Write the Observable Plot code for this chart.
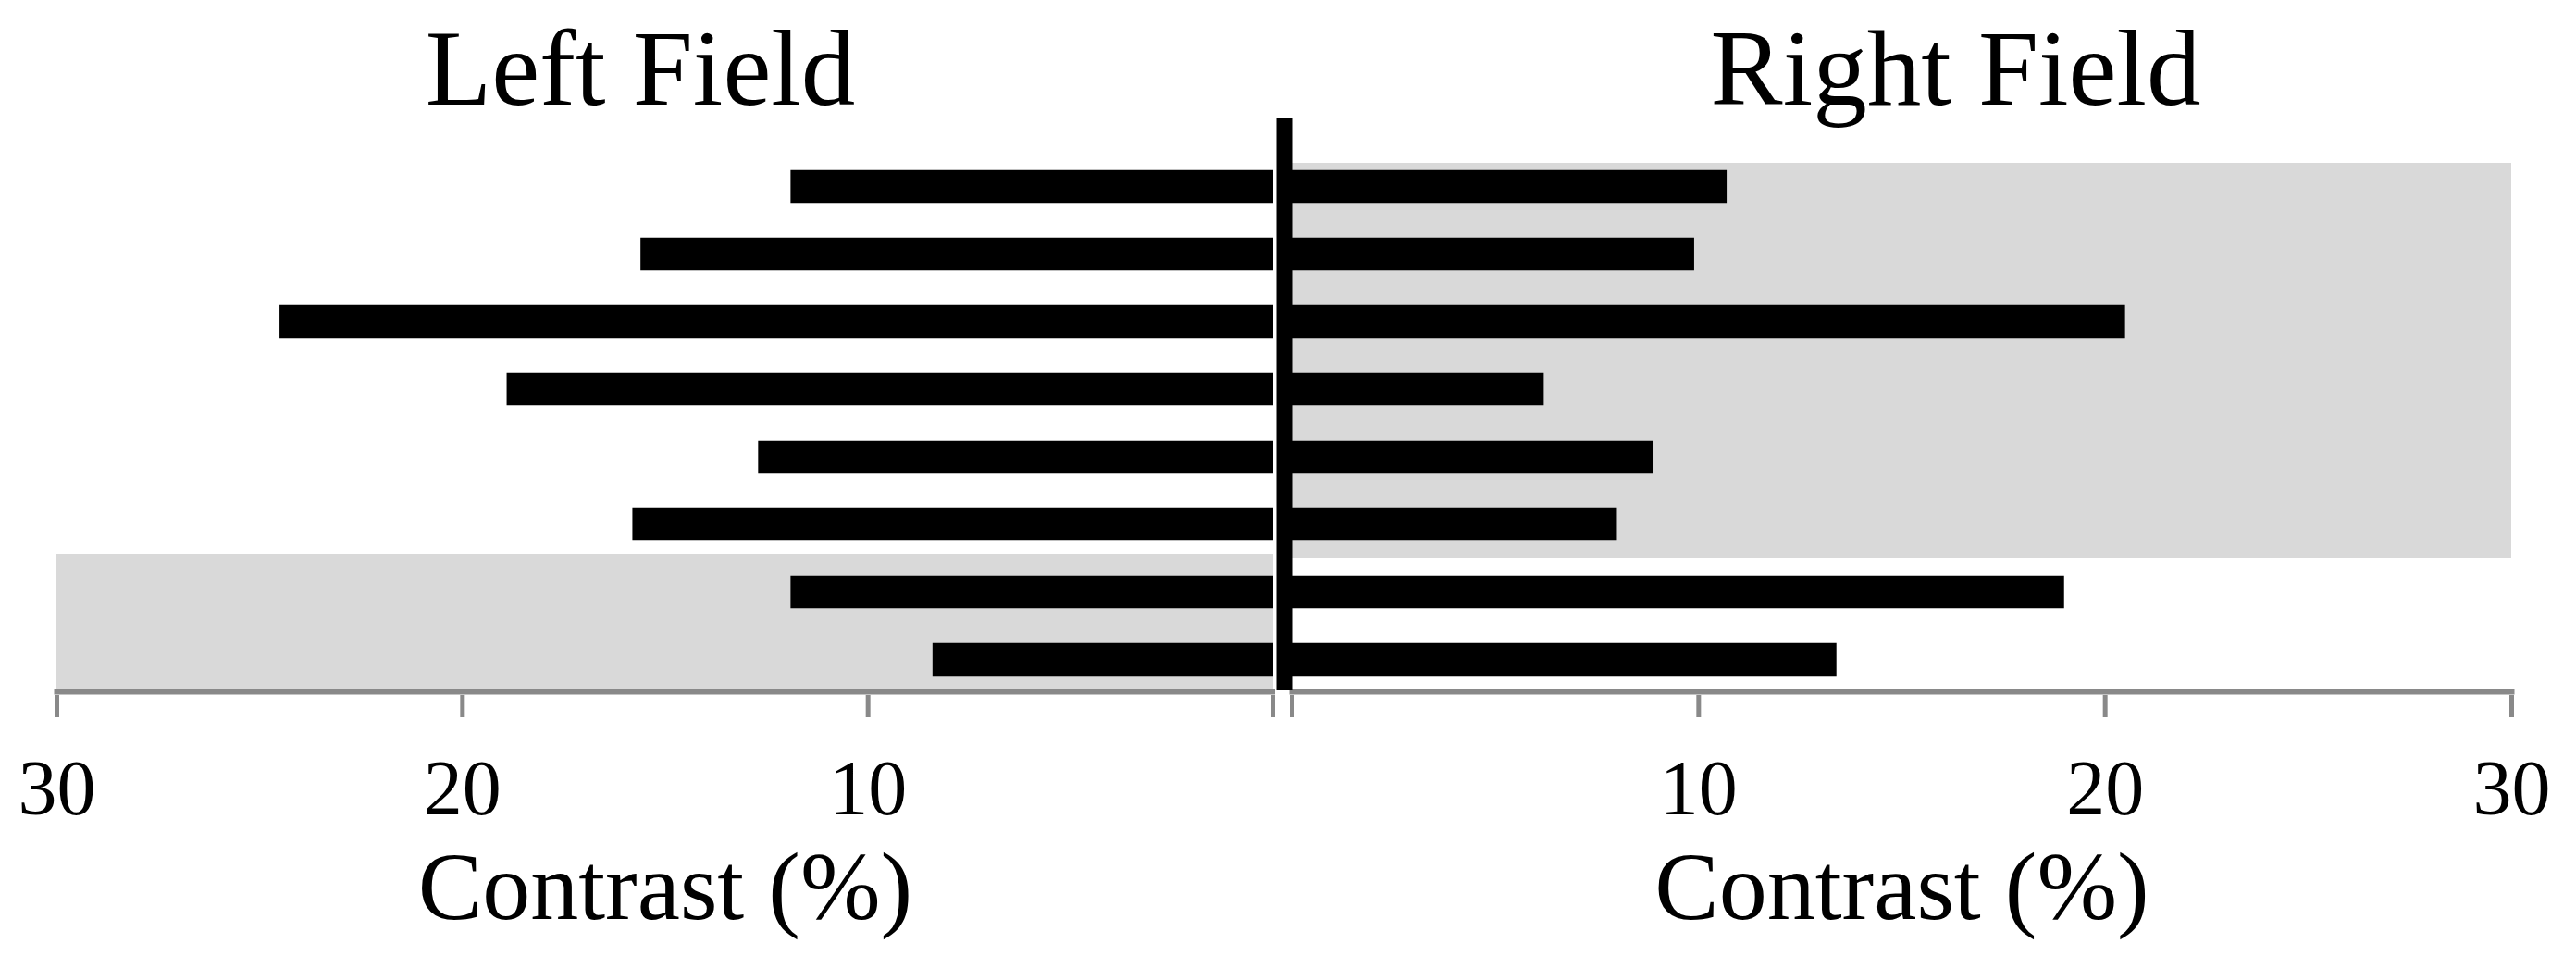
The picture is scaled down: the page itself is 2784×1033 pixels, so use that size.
<!DOCTYPE html>
<html>
<head>
<meta charset="utf-8">
<script src="https://cdn.jsdelivr.net/npm/d3@7"></script>
<script src="https://cdn.jsdelivr.net/npm/@observablehq/plot@0.6"></script>
<style>
  html, body { margin: 0; padding: 0; background: white; overflow: hidden; }
  #wrap { display: flex; flex-direction: row; width: 2784px; height: 1033px; }
  #wrap svg { display: block; max-width: none; }
</style>
</head>
<body>
<div id="wrap"></div>
<script>
// ---- data ----
const categories = ["1", "2", "3", "4", "5", "6", "7", "8"];
const leftValues = [11.9, 15.6, 24.5, 18.9, 12.7, 15.8, 11.9, 8.4];
const rightValues = [10.7, 9.9, 20.5, 6.2, 8.9, 8.0, 19.0, 13.4];
const leftShaded = ["7", "8"];
const rightShaded = ["1", "2", "3", "4", "5", "6"];
const tickValues = [0, 10, 20, 30];
const xMax = 30;
const titles = ["Left Field", "Right Field"];
const axisLabel = "Contrast (%)";

const font = "'Liberation Serif', 'Times New Roman', serif";
const H = 1033, mTop = 163, mBottom = 282;

function panel({values, shaded, shadeTopInset, title, reverse, width, marginLeft, marginRight, titleDx, center}) {
  const data = categories.map((c, i) => ({cat: c, value: values[i]}));
  const firstShaded = shaded.slice(0, 1);
  const restShaded = shaded.slice(1);
  const marks = [
    Plot.barX(firstShaded, {y: d => d, x1: () => 0, x2: () => xMax, fill: "#d9d9d9", insetTop: shadeTopInset}),
    Plot.barX(restShaded, {y: d => d, x1: () => 0, x2: () => xMax, fill: "#d9d9d9"}),
    Plot.barX(data, {y: "cat", x1: () => 0, x2: "value", fill: "black", insetTop: 18.75, insetBottom: 18.75}),
    Plot.frame({anchor: "bottom", stroke: "#898989", strokeWidth: 6, dy: -4}),
    Plot.axisX({
      ticks: tickValues, tickSize: 24, tickPadding: 45, stroke: "#898989", strokeWidth: 5,
      fill: "black", fontSize: 84, fontFamily: font, tickFormat: d => d === 0 ? "" : String(d), label: null
    }),
    Plot.text([title], {frameAnchor: "top", lineAnchor: "bottom", dy: -51, dx: titleDx, fontSize: 117, fontFamily: font, fill: "black"}),
    Plot.text([axisLabel], {frameAnchor: "bottom", lineAnchor: "bottom", dy: 241, fontSize: 104, fontFamily: font, fill: "black"})
  ];
  if (center) {
    marks.push(Plot.ruleX([0], {stroke: "black", strokeWidth: 17, dx: -8.5, insetTop: -36, insetBottom: 5}));
  }
  return Plot.plot({
    width, height: H,
    marginTop: mTop, marginBottom: mBottom, marginLeft, marginRight,
    style: {background: "white", overflow: "visible", fontFamily: font},
    x: {domain: [0, xMax], reverse, axis: null},
    y: {type: "band", domain: categories, padding: 0, axis: null},
    marks
  });
}

const left = panel({values: leftValues, shaded: leftShaded, shadeTopInset: -4, title: titles[0], reverse: true,
  width: 1378, marginLeft: 61, marginRight: 2, titleDx: -27, center: false});
const right = panel({values: rightValues, shaded: rightShaded, shadeTopInset: 11, title: titles[1], reverse: false,
  width: 1406, marginLeft: 18, marginRight: 70, titleDx: 58, center: true});

document.getElementById("wrap").append(left, right);
</script>
</body>
</html>
